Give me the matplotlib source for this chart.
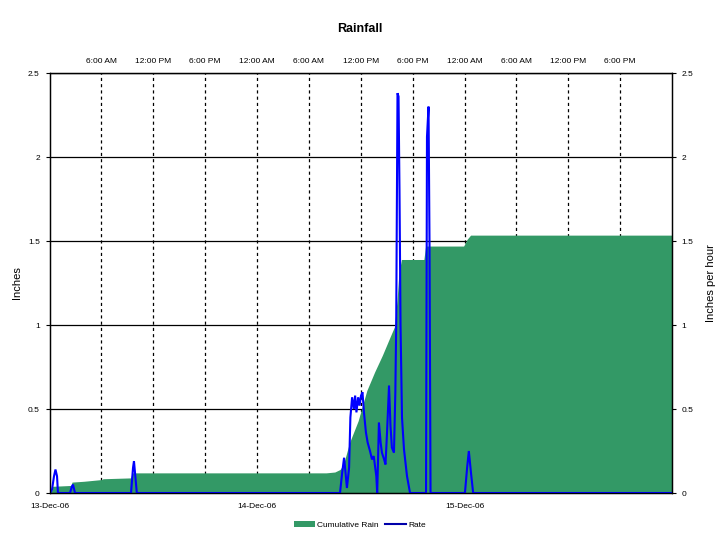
import matplotlib
matplotlib.use("Agg")
import matplotlib.pyplot as plt
from matplotlib.patches import Patch
from matplotlib.lines import Line2D

plt.rcParams['font.family'] = ['Liberation Sans', 'DejaVu Sans']

# Cumulative rain (inches) vs hours since 13-Dec-06 00:00
cum_hours = [0, 0.3, 0.35, 2.5, 2.6, 4.0, 6.0, 6.2, 9.4, 9.55, 24, 32.0, 33.0, 33.6,
             34.0, 34.7, 35.7, 36.7, 37.6, 38.5, 39.4, 39.9, 40.2, 40.4, 40.7, 43.3,
             43.5, 47.9, 48.3, 48.7, 72]
cum_values = [0, 0.02, 0.04, 0.045, 0.065, 0.07, 0.08, 0.085, 0.09, 0.12, 0.12, 0.12,
              0.125, 0.14, 0.17, 0.30, 0.43, 0.61, 0.72, 0.82, 0.93, 0.99, 1.15, 1.30,
              1.39, 1.39, 1.47, 1.47, 1.51, 1.535, 1.535]

# Rain rate (inches per hour)
rate_hours = [0, 0.06, 0.29, 0.52, 0.69, 0.87, 0.98, 2.37, 2.6, 2.72, 2.95, 9.43, 9.66,
              9.77, 9.89, 10.1, 33.6, 33.85, 34.07, 34.24, 34.4, 34.65, 34.8, 35.0,
              35.2, 35.35, 35.5, 35.7, 35.86, 36.03, 36.2, 36.37, 36.6, 36.8, 37.07,
              37.3, 37.5, 37.8, 37.9, 38.0, 38.1, 38.3, 38.45, 38.7, 38.86, 39.03,
              39.27, 39.44, 39.6, 39.84, 40.0, 40.1, 40.25, 40.37, 40.48, 40.6, 40.77,
              41.0, 41.35, 41.7, 43.55, 43.66, 43.84, 43.95, 44.07, 48.05, 48.3, 48.5,
              48.75, 49.0, 72]
rate_values = [0, 0, 0.02, 0.10, 0.14, 0.10, 0, 0, 0.04, 0.05, 0, 0, 0.15,
               0.19, 0.12, 0, 0, 0.12, 0.21, 0.12, 0.03, 0.15, 0.45, 0.57,
               0.50, 0.58, 0.48, 0.57, 0.52, 0.58, 0.60, 0.48, 0.36, 0.30, 0.25,
               0.20, 0.22, 0.10, 0.0, 0.20, 0.42, 0.30, 0.24, 0.20, 0.17, 0.35,
               0.64, 0.40, 0.27, 0.24, 0.6, 1.0, 2.38, 2.36, 1.8, 1.0, 0.45,
               0.26, 0.10, 0, 0, 2.12, 2.30, 1.5, 0, 0, 0.15, 0.25,
               0.12, 0, 0]

top_ticks = [6, 12, 18, 24, 30, 36, 42, 48, 54, 60, 66]
top_labels = ['6:00 AM', '12:00 PM', '6:00 PM', '12:00 AM', '6:00 AM', '12:00 PM',
              '6:00 PM', '12:00 AM', '6:00 AM', '12:00 PM', '6:00 PM']
bottom_ticks = [0, 24, 48]
bottom_labels = ['13-Dec-06', '14-Dec-06', '15-Dec-06']
y_ticks = [0, 0.5, 1, 1.5, 2, 2.5]
y_labels = ['0', '0.5', '1', '1.5', '2', '2.5']

GREEN = '#339966'
BLUE = '#0000FF'

fig = plt.figure(figsize=(7.2, 5.4), dpi=100)
ax = fig.add_axes([0.06875, 0.087, 0.8646, 0.7778])
ax.set_xlim(0, 72)
ax.set_ylim(0, 2.5)
ax.set_axisbelow(True)
ax.yaxis.grid(True, color='black', lw=0.9)
for t in top_ticks:
    ax.axvline(t, color='black', lw=0.9, ls=(0, (2.5, 2.5)), zorder=0.5)
ax.fill_between(cum_hours, cum_values, 0, color=GREEN, lw=0, zorder=1)

ax.set_xticks(bottom_ticks)
ax.set_xticklabels(bottom_labels, fontsize=6)
ax.tick_params(axis='x', length=0, pad=7)
ax.set_yticks(y_ticks)
ax.set_yticklabels(y_labels, fontsize=6)
ax.tick_params(axis='y', length=3, width=0.8, pad=4)
ax.set_ylabel('Inches', fontsize=8, labelpad=4)

sec = ax.secondary_xaxis('top')
sec.set_xticks(top_ticks)
sec.set_xticklabels(top_labels, fontsize=6)
sec.tick_params(length=0, pad=6)
sec.spines['top'].set_visible(False)

ax2 = ax.twinx()
ax2.set_ylim(0, 2.5)
ax2.set_xlim(0, 72)
ax2.plot(rate_hours, rate_values, color=BLUE, lw=1.5, solid_joinstyle='miter')
ax2.set_yticks(y_ticks)
ax2.set_yticklabels(y_labels, fontsize=6)
ax2.tick_params(axis='y', length=3, width=0.8, pad=4)
ax2.set_ylabel('Inches per hour', fontsize=8, labelpad=9)

for a in (ax, ax2):
    for s in a.spines.values():
        s.set_linewidth(0.9)

fig.suptitle('Rainfall', fontsize=9, fontweight='bold', y=0.958)

handles = [Patch(facecolor=GREEN, edgecolor='none'),
           Line2D([0], [0], color='#0000AA', lw=1.5)]
fig.legend(handles, ['Cumulative Rain', 'Rate'], loc='center', bbox_to_anchor=(0.5, 0.028),
           ncol=2, frameon=False, fontsize=6, handlelength=2.5, handleheight=0.8,
           columnspacing=0.8, handletextpad=0.3)

fig.savefig('out.png', dpi=100)
